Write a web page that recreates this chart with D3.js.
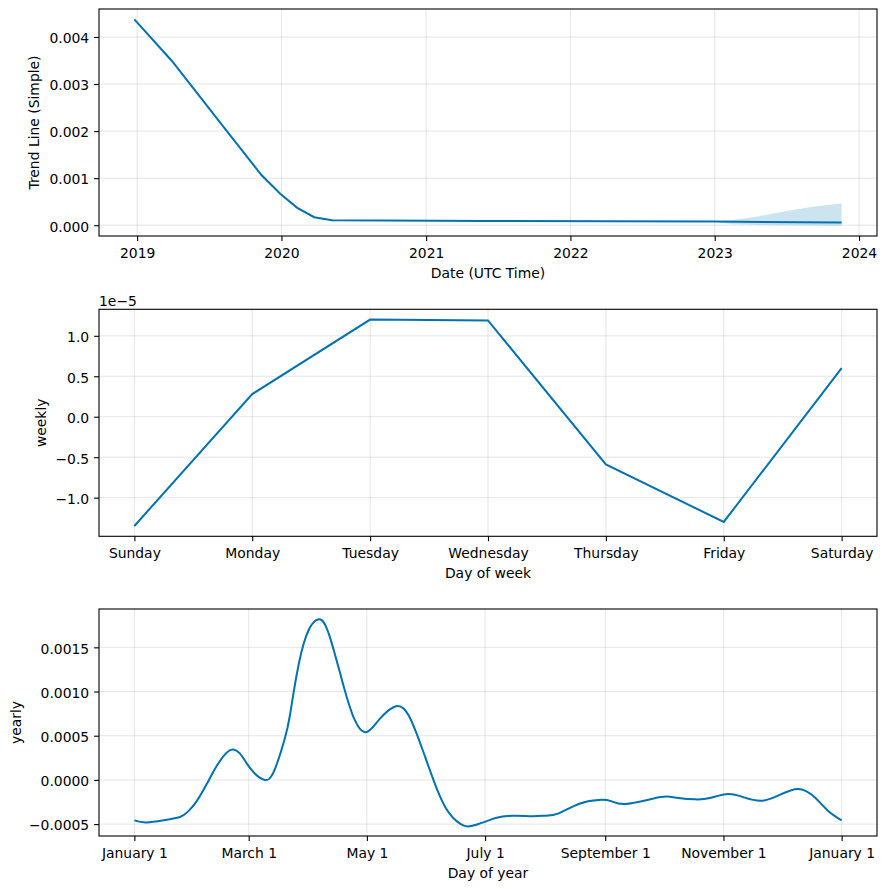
<!DOCTYPE html>
<html lang="en">
  <head>
    <meta charset="UTF-8" />
    <title>Trend, weekly and yearly components</title>
    <script src="https://cdn.jsdelivr.net/npm/d3@7"></script>
    <style>
      body {
        margin: 0;
        background: #fff;
        font-family: "DejaVu Sans", sans-serif;
      }
      .grid line {
        stroke: #808080;
        stroke-opacity: 0.2;
        stroke-width: 1;
      }
      .frame {
        fill: none;
        stroke: #000;
        stroke-width: 1.1;
      }
      .series {
        fill: none;
        stroke: #0072b2;
        stroke-width: 2;
      }
    </style>
  </head>
  <body>
    <svg id="chart" width="886" height="889"></svg>
    <script>
      // trend
      const trendDates = [
        "2018-12-25", "2019-03-30", "2019-08-15", "2019-11-12", "2019-12-29",
        "2020-02-10", "2020-03-24", "2020-05-08", "2021-06-01", "2023-01-01",
        "2023-11-18",
      ];
      const trendValues = [
        0.004375, 0.00349, 0.00201, 0.00106, 0.00067, 0.00037, 0.00017,
        0.000106, 0.000092, 0.000078, 0.000057,
      ];
      const bandDates = [
        "2023-01-01", "2023-02-14", "2023-04-23", "2023-07-02", "2023-09-06",
        "2023-11-18",
      ];
      const bandLower = [0.000078, 0.00002, 0.000005, 0.0, -0.000005, -0.00001];
      const bandUpper = [0.000078, 0.000106, 0.00019, 0.0003, 0.00039, 0.00046];
      const trendYears = [2019, 2020, 2021, 2022, 2023, 2024];
      const trendTicks = [0, 0.001, 0.002, 0.003, 0.004];

      // weekly
      const weekDays = [
        "Sunday", "Monday", "Tuesday", "Wednesday", "Thursday", "Friday", "Saturday",
      ];
      const weeklyValues = [
        -1.35e-5, 0.28e-5, 1.2e-5, 1.19e-5, -0.59e-5, -1.3e-5, 0.6e-5,
      ];
      const weeklyTicks = [-1e-5, -0.5e-5, 0, 0.5e-5, 1e-5];

      // yearly (day of year -> value, in 1e-4)
      const yearDays = [
        0, 6.4, 16.7, 23.5, 27.8, 32.1, 37.2, 42.4, 47.5, 51, 54.4, 57.8, 62,
        67.2, 72, 77.5, 80.2, 83.6, 88.7, 95.2, 100.7, 107.5, 113.6,
        119.6, 126.4, 135, 141.8, 148.7, 155.6, 162.4, 170.1, 176, 183, 186.4,
        195, 205, 212, 219, 229.3, 239.6, 246, 253.3, 267, 274.7, 280.8, 289.4,
        297, 306.5, 315, 323.6, 332.2, 342.5, 351.1, 357.9, 365,
      ];
      const yearlyValues = [
        -4.58, -4.81, -4.5, -4.2, -3.56, -2.43, -0.53, 1.54, 3.06, 3.43, 3.0,
        1.93, 0.75, 0.0, 0.95, 4.57, 7.2, 11.7, 16.3, 18.17, 16.3, 11.0,
        6.84, 5.4, 6.84, 8.34, 7.21, 3.44, -0.72, -3.74, -5.18, -5.1, -4.58,
        -4.3, -4.05, -4.1, -4.05, -3.78, -2.72, -2.27, -2.4, -2.72, -2.15, -1.89,
        -2.04, -2.2, -2.05, -1.59, -2.0, -2.35, -1.78, -1.02, -1.97, -3.48, -4.58,
      ].map((v) => v * 1e-4);
      const monthStarts = [0, 59, 120, 181, 243, 304, 365];
      const monthLabels = [
        "January 1", "March 1", "May 1", "July 1", "September 1", "November 1", "January 1",
      ];
      const yearlyTicks = [-0.0005, 0, 0.0005, 0.001, 0.0015];

      const svg = d3.select("#chart");
      const left = 99, right = 877, panelH = 227;
      const fontSize = "13.9px";
      const tick = 4.9;
      const color = "#0072b2";

      // matplotlib-like 5% margins
      function pad(ext) {
        const a = +ext[0], b = +ext[1];
        const p = (b - a) * 0.05;
        return [a - p, b + p];
      }

      function panel(top, x, y, xTicks, xFormat, yTicks, yFormat, xLabel, yLabel, yLabelX) {
        const g = svg.append("g").attr("transform", `translate(0,${top})`);
        const grid = g.append("g").attr("class", "grid");
        grid.selectAll(".gx").data(xTicks).join("line")
          .attr("class", "gx")
          .attr("x1", (d) => x(d)).attr("x2", (d) => x(d))
          .attr("y1", 0).attr("y2", panelH);
        grid.selectAll(".gy").data(yTicks).join("line")
          .attr("class", "gy")
          .attr("x1", left).attr("x2", right)
          .attr("y1", (d) => y(d)).attr("y2", (d) => y(d));

        const ax = g.append("g")
          .attr("transform", `translate(0,${panelH})`)
          .call(d3.axisBottom(x).tickValues(xTicks).tickFormat(xFormat)
            .tickSize(tick).tickPadding(tick).tickSizeOuter(0));
        ax.select(".domain").remove();
        ax.attr("font-family", null).attr("font-size", fontSize);
        ax.selectAll("text").attr("dy", "0.86em");
        ax.selectAll("line").attr("stroke-width", 1.1);

        const ay = g.append("g")
          .attr("transform", `translate(${left},0)`)
          .call(d3.axisLeft(y).tickValues(yTicks).tickFormat(yFormat)
            .tickSize(tick).tickPadding(tick).tickSizeOuter(0));
        ay.select(".domain").remove();
        ay.attr("font-family", null).attr("font-size", fontSize);
        ay.selectAll("text").attr("dy", "0.42em");
        ay.selectAll("line").attr("stroke-width", 1.1);

        g.append("text")
          .attr("x", (left + right) / 2)
          .attr("y", panelH + 41.5)
          .attr("text-anchor", "middle")
          .style("font-size", fontSize)
          .text(xLabel);
        g.append("text")
          .attr("transform", `translate(${yLabelX},${panelH / 2}) rotate(-90)`)
          .attr("text-anchor", "middle")
          .style("font-size", fontSize)
          .text(yLabel);
        return g;
      }

      function frame(g) {
        g.append("rect").attr("class", "frame")
          .attr("x", left).attr("y", 0)
          .attr("width", right - left).attr("height", panelH);
      }

      // ---- panel 1: trend
      const parse = d3.utcParse("%Y-%m-%d");
      const tDates = trendDates.map(parse);
      const bDates = bandDates.map(parse);
      const x1 = d3.scaleUtc().domain(pad(d3.extent(tDates))).range([left, right]);
      const y1 = d3.scaleLinear()
        .domain(pad(d3.extent(trendValues.concat(bandLower, bandUpper))))
        .range([panelH, 0]);
      const g1 = panel(
        9, x1, y1,
        trendYears.map((yr) => new Date(Date.UTC(yr, 0, 1))), (d) => d.getUTCFullYear(),
        trendTicks, d3.format(".3f"),
        "Date (UTC Time)", "Trend Line (Simple)", 38.5
      );
      g1.append("path")
        .datum(bDates.map((d, i) => [d, bandLower[i], bandUpper[i]]))
        .attr("fill", color).attr("fill-opacity", 0.2)
        .attr("d", d3.area().x((d) => x1(d[0])).y0((d) => y1(d[1])).y1((d) => y1(d[2])));
      g1.append("path")
        .datum(tDates.map((d, i) => [d, trendValues[i]]))
        .attr("class", "series")
        .attr("d", d3.line().x((d) => x1(d[0])).y((d) => y1(d[1])));
      frame(g1);

      // ---- panel 2: weekly
      const top2 = 309.3;
      const x2 = d3.scaleLinear().domain(pad([0, weekDays.length - 1])).range([left, right]);
      const y2 = d3.scaleLinear().domain(pad(d3.extent(weeklyValues))).range([panelH, 0]);
      const g2 = panel(
        top2, x2, y2,
        d3.range(weekDays.length), (i) => weekDays[i],
        weeklyTicks, (d) => d3.format(".1f")(d * 1e5),
        "Day of week", "weekly", 45.7
      );
      g2.append("path")
        .datum(weeklyValues.map((v, i) => [i, v]))
        .attr("class", "series")
        .attr("d", d3.line().x((d) => x2(d[0])).y((d) => y2(d[1])));
      frame(g2);
      svg.append("text")
        .attr("x", left)
        .attr("y", top2 - 3.5)
        .style("font-size", fontSize)
        .text("1e\u22125");

      // ---- panel 3: yearly
      const x3 = d3.scaleLinear().domain(pad([0, 365])).range([left, right]);
      const y3 = d3.scaleLinear().domain(pad(d3.extent(yearlyValues))).range([panelH, 0]);
      const g3 = panel(
        609, x3, y3,
        monthStarts, (d, i) => monthLabels[i],
        yearlyTicks, d3.format(".4f"),
        "Day of year", "yearly", 20.7
      );
      g3.append("path")
        .datum(yearDays.map((d, i) => [d, yearlyValues[i]]))
        .attr("class", "series")
        .attr("d", d3.line().curve(d3.curveNatural).x((d) => x3(d[0])).y((d) => y3(d[1])));
      frame(g3);
    </script>
  </body>
</html>
